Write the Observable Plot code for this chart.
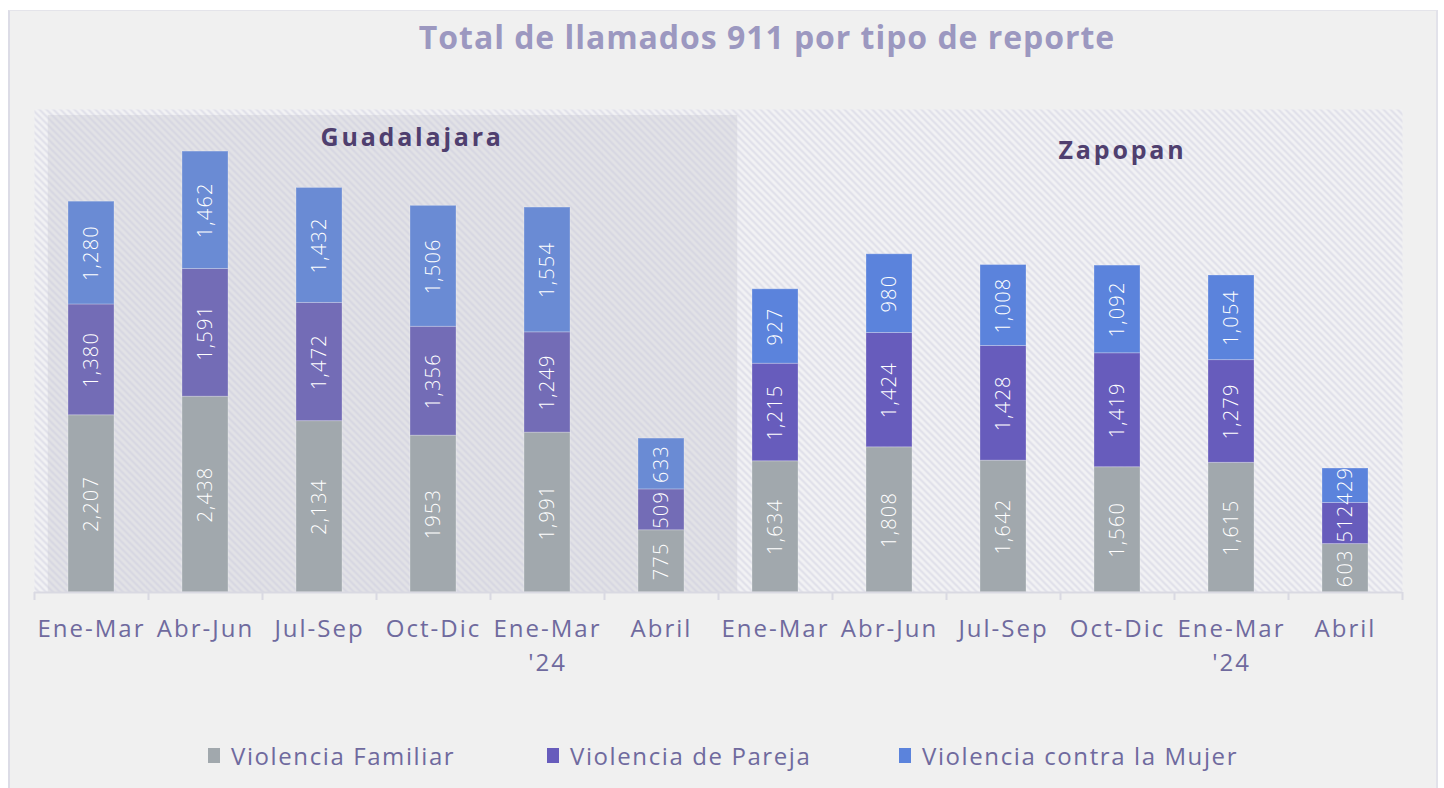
<!DOCTYPE html>
<html>
<head>
<meta charset="utf-8">
<script src="https://cdn.jsdelivr.net/npm/d3@7"></script>
<script src="https://cdn.jsdelivr.net/npm/@observablehq/plot@0.6"></script>
<style>
  html, body { margin: 0; padding: 0; background: #ffffff; }
  #wrap { position: relative; width: 1444px; height: 788px; overflow: hidden; font-family: "Open Sans", "Lato", sans-serif; }
  #card { position: absolute; left: 8px; top: 10px; width: 1426px; height: 790px; background: #f0f0f0;
          border-left: 2px solid #dcdce6; border-top: 1px solid #e4e4ea; border-right: 2px solid #e2e2ea; }
  #title { position: absolute; left: 0; width: 1534px; top: 15px; text-align: center; font-size: 32px; font-weight: 700;
           color: #9c98c0; letter-spacing: 0.95px; }
  #chart { position: absolute; left: 0; top: 0; }
  .leg { position: absolute; top: 739px; font-size: 24px; color: #6f6a9e; display: flex; align-items: center; letter-spacing: 1.6px; }
  .leg span.sw { display: inline-block; width: 12px; height: 15px; margin-right: 11px; }
</style>
</head>
<body>
<div id="wrap">
  <div id="card"></div>
  <div id="title">Total de llamados 911 por tipo de reporte</div>
  <div id="chart"></div>
  <div class="leg" style="left:208px"><span class="sw" style="background:#a1a8ad"></span>Violencia Familiar</div>
  <div class="leg" style="left:547px"><span class="sw" style="background:#675cbc"></span>Violencia de Pareja</div>
  <div class="leg" style="left:899px"><span class="sw" style="background:#5b83dc"></span>Violencia contra la Mujer</div>
</div>
<script>
// ---- data ----
const periods = ["Ene-Mar", "Abr-Jun", "Jul-Sep", "Oct-Dic", "Ene-Mar\n'24", "Abril"];
const cities = ["Guadalajara", "Zapopan"];
const series = ["Violencia Familiar", "Violencia de Pareja", "Violencia contra la Mujer"];

const gdlFamiliar = [2207, 2438, 2134, 1953, 1991, 775];
const gdlPareja   = [1380, 1591, 1472, 1356, 1249, 509];
const gdlMujer    = [1280, 1462, 1432, 1506, 1554, 633];
const zapFamiliar = [1634, 1808, 1642, 1560, 1615, 603];
const zapPareja   = [1215, 1424, 1428, 1419, 1279, 512];
const zapMujer    = [927, 980, 1008, 1092, 1054, 429];
// labels printed without thousands separator in the original
const gdlFamiliarNoComma = [false, false, false, true, false, false];

const seriesColors = {
  "Guadalajara": ["#a1a8ad", "#736cb6", "#6a8bd4"],
  "Zapopan": ["#a1a8ad", "#675cbc", "#5b83dc"]
};

// ---- build table ----
const keyOf = (city, i) => city[0] + i;
const keys = cities.flatMap(c => periods.map((p, i) => keyOf(c, i)));
const rows = [];
const addSeries = (city, s, values, noComma) => values.forEach((v, i) =>
  rows.push({city, series: s, key: keyOf(city, i), value: v, fillKey: city + "|" + s,
             label: noComma && noComma[i] ? String(v) : d3.format(",")(v)}));
addSeries("Guadalajara", series[0], gdlFamiliar, gdlFamiliarNoComma);
addSeries("Guadalajara", series[1], gdlPareja);
addSeries("Guadalajara", series[2], gdlMujer);
addSeries("Zapopan", series[0], zapFamiliar);
addSeries("Zapopan", series[1], zapPareja);
addSeries("Zapopan", series[2], zapMujer);

const colorDomain = cities.flatMap(c => series.map(s => c + "|" + s));
const colorRange = cities.flatMap(c => seriesColors[c]);

const W = 1444, H = 700, ML = 34, MR = 42, MT = 109, MB = 108;
const step = (W - ML - MR) / keys.length;
const pad = 0.6;
const bw = step * (1 - pad);
const half = (step - bw) / 2;

const gdlKeys = keys.filter(k => k[0] === "G");
const shadeTop = 5940;
const yTop = 6015;
const gdlLabel = [{name: "Guadalajara", key: "G2", y: 5660}];
const zapLabel = [{name: "Zapopan", key: "Z3", y: 5500}];

const plot = Plot.plot({
  width: W, height: H,
  marginLeft: ML, marginRight: MR, marginTop: MT, marginBottom: MB,
  style: {background: "transparent", fontFamily: "'Open Sans', Lato, sans-serif", overflow: "visible"},
  x: {domain: keys, paddingInner: pad, paddingOuter: pad / 2, align: 0.5, axis: null, label: null},
  y: {domain: [0, yTop], axis: null, label: null},
  color: {domain: colorDomain, range: colorRange},
  marks: [
    Plot.frame({fill: "#f2f2f4", stroke: null}),
    // Guadalajara shaded panel
    Plot.barY(gdlKeys.slice(0, 1), {x: d => d, y: shadeTop, fill: "#e2e2e6", insetLeft: -(half - 14), insetRight: -(half + 1)}),
    Plot.barY(gdlKeys.slice(1, -1), {x: d => d, y: shadeTop, fill: "#e2e2e6", insetLeft: -(half + 1), insetRight: -(half + 1)}),
    Plot.barY(gdlKeys.slice(-1), {x: d => d, y: shadeTop, fill: "#e2e2e6", insetLeft: -(half + 1), insetRight: -(half + 19)}),
    Plot.frame({fill: "url(#hatch)", stroke: null}),
    Plot.barY(rows, Plot.stackY({x: "key", y: "value", z: "series", order: series, fill: "fillKey",
      stroke: "#ffffff", strokeOpacity: 0.25, strokeWidth: 1})),
    Plot.text(rows, Plot.stackY({x: "key", y: "value", z: "series", order: series, text: "label",
      rotate: -90, fill: "#ffffff", fontSize: 20, fontWeight: 300, ariaDescription: "value-label"})),
    Plot.text(gdlLabel, {x: "key", y: "y", text: "name", textAnchor: "start", dx: 1,
      fill: "#4f3f6f", fontSize: 25, fontWeight: 700, ariaDescription: "region-label"}),
    Plot.text(zapLabel, {x: "key", y: "y", text: "name", textAnchor: "middle", dx: 5,
      fill: "#4f3f6f", fontSize: 25, fontWeight: 700, ariaDescription: "region-label"}),
    Plot.ruleY([0], {stroke: "#d9d9e2", strokeWidth: 2}),
    Plot.axisX({ticks: keys, text: null, tickSize: 8, dx: -half - bw / 2, stroke: "#d9d9e2", strokeWidth: 2, label: null}),
    Plot.axisX({ticks: keys.slice(-1), text: null, tickSize: 8, dx: half + bw / 2, stroke: "#d9d9e2", strokeWidth: 2, label: null}),
    Plot.axisX({ticks: keys, tickSize: 0, tickPadding: 20, fontSize: 24, lineHeight: 1.42,
      fill: "#6f6a9e", tickFormat: k => periods[+k.slice(1)], label: null})
  ]
});

const svg = d3.select(plot);
svg.insert("defs", ":first-child").html(
  `<pattern id="hatch" patternUnits="userSpaceOnUse" width="7" height="7">
     <path d="M0,0L7,7M-3.5,3.5L3.5,10.5M3.5,-3.5L10.5,3.5" stroke="#c8c8dc" stroke-opacity="0.45" stroke-width="2"/>
   </pattern>`);
svg.selectAll('g[aria-label="x-axis tick label"] text').style("letter-spacing", "2px");
svg.selectAll('g[aria-description="value-label"] text').style("letter-spacing", "1.2px");
svg.selectAll('g[aria-description="region-label"] text').style("letter-spacing", "2.8px");
document.getElementById("chart").appendChild(plot);
</script>
</body>
</html>
